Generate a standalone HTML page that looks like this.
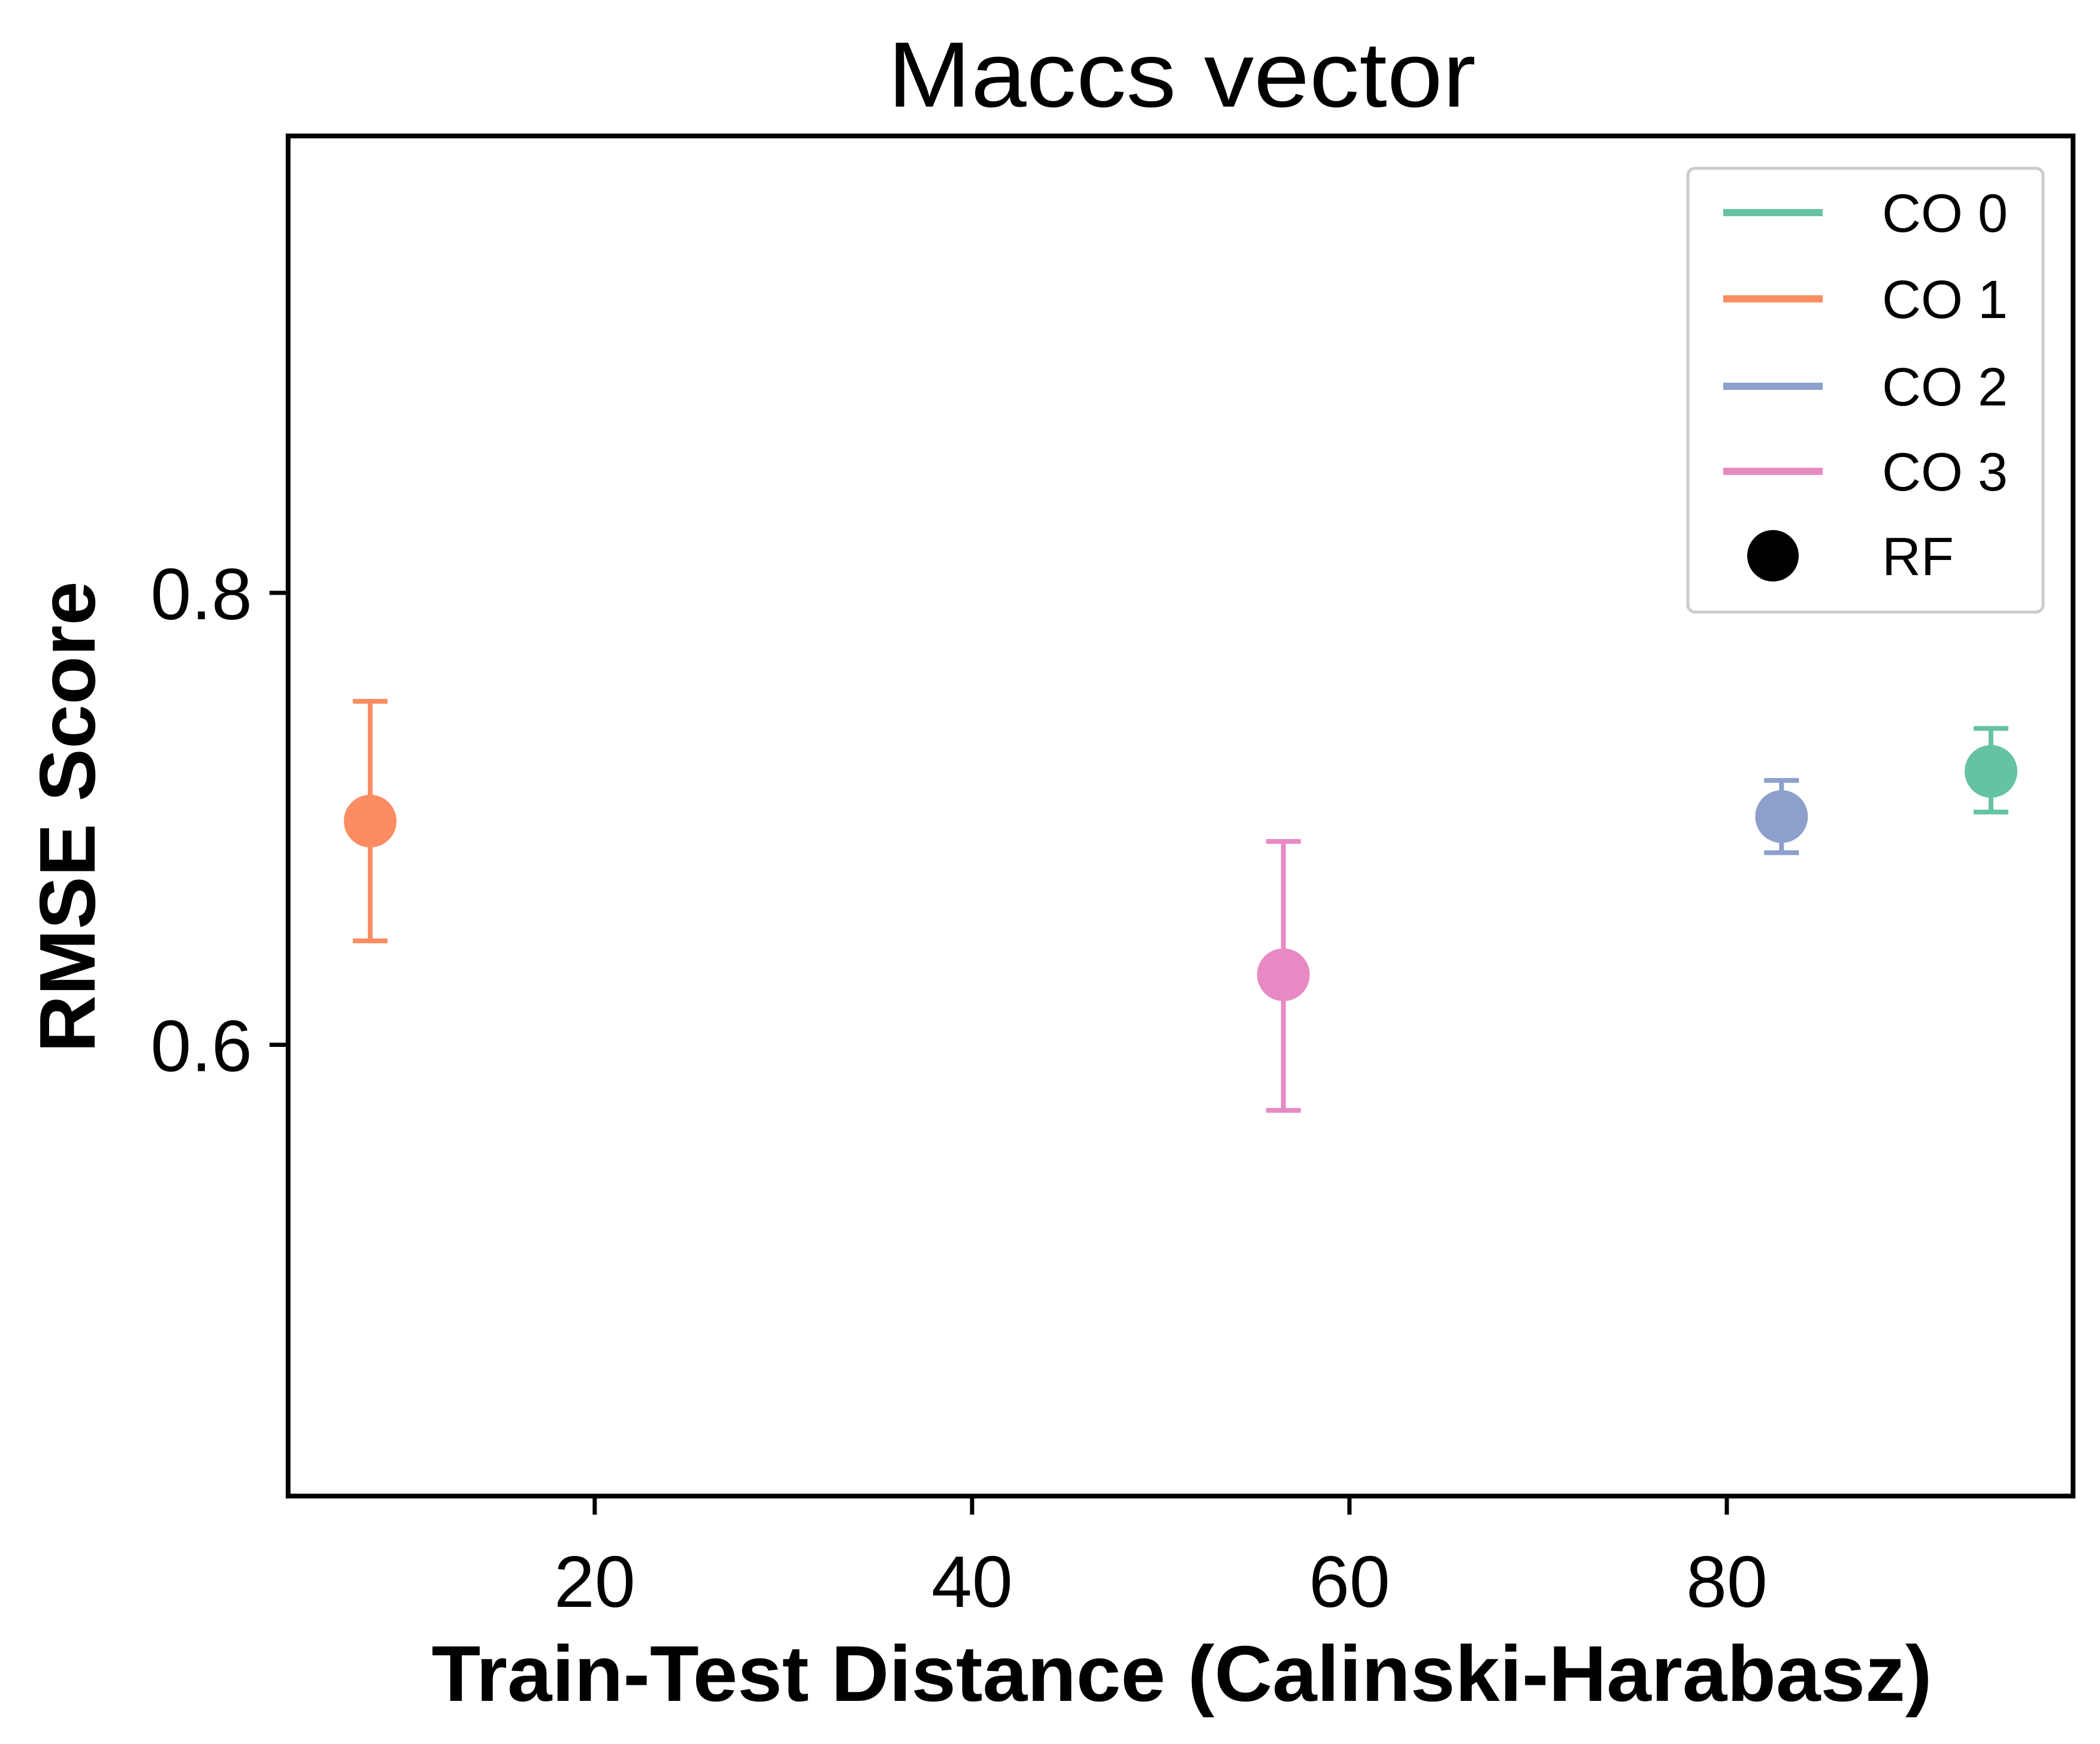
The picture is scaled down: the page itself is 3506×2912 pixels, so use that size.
<!DOCTYPE html>
<html><head><meta charset="utf-8"><style>html,body{margin:0;padding:0;background:#fff}svg{display:block}</style></head>
<body>
<svg id="chart" xmlns="http://www.w3.org/2000/svg" width="3506" height="2912" viewBox="0 0 3506 2912" font-family="Liberation Sans, Arial, sans-serif">
<rect width="3506" height="2912" fill="#fff"/>
<text x="1973" y="178" font-size="155" text-anchor="middle" textLength="982" lengthAdjust="spacingAndGlyphs">Maccs vector</text>
<g id="plot"></g>
<rect x="481" y="227" width="2980" height="2271" fill="none" stroke="#000" stroke-width="8"/>
<g id="xticks"></g>
<g id="yticks"></g>
<text x="1973" y="2840" font-size="132" font-weight="bold" text-anchor="middle" textLength="2505" lengthAdjust="spacingAndGlyphs">Train-Test Distance (Calinski-Harabasz)</text>
<text transform="translate(158,1364) rotate(-90)" font-size="132" font-weight="bold" text-anchor="middle" textLength="787" lengthAdjust="spacingAndGlyphs">RMSE Score</text>
<g>
<rect x="2818" y="281" width="593" height="741" rx="12" fill="#fff" stroke="#ccc" stroke-width="5"/>
<line x1="2877" y1="355" x2="3043" y2="355" stroke="#66c2a5" stroke-width="12"/>
<text x="3142" y="387" font-size="90">CO 0</text>
<line x1="2877" y1="499" x2="3043" y2="499" stroke="#fc8d62" stroke-width="12"/>
<text x="3142" y="531" font-size="90">CO 1</text>
<line x1="2877" y1="645" x2="3043" y2="645" stroke="#8da0cb" stroke-width="12"/>
<text x="3142" y="677" font-size="90">CO 2</text>
<line x1="2877" y1="787" x2="3043" y2="787" stroke="#e78ac3" stroke-width="12"/>
<text x="3142" y="819" font-size="90">CO 3</text>
<circle cx="2960" cy="928" r="43" fill="#000"/>
<text x="3142" y="960" font-size="90">RF</text>
</g>
</svg>
<script>
const categories = ["CO 0","CO 1","CO 2","CO 3"];
const xValues = [94.0, 8.1, 82.9, 56.5];
const yValues = [0.721, 0.699, 0.701, 0.631];
const errLow = [0.703, 0.646, 0.685, 0.571];
const errHigh = [0.740, 0.752, 0.717, 0.690];
const xTicks = [20, 40, 60, 80];
const yTicks = [0.6, 0.8];
const colors = ["#66c2a5","#fc8d62","#8da0cb","#e78ac3"];
const L=481,R=3461,T=227,B=2498, xmin=3.75, xmax=98.35, ymin=0.4003, ymax=1.0022;
const sx=v=>L+(v-xmin)/(xmax-xmin)*(R-L);
const sy=v=>B-(v-ymin)/(ymax-ymin)*(B-T);
const NS="http://www.w3.org/2000/svg";
function mk(tag,attrs,parent){const e=document.createElementNS(NS,tag);for(const k in attrs)e.setAttribute(k,attrs[k]);parent.appendChild(e);return e;}
const plot=document.getElementById('plot');
categories.forEach((c,i)=>{
  const x=sx(xValues[i]);
  const g=mk('g',{},plot);
  
  
  const col=colors[i];
  const v=mk('line',{x1:x,x2:x,y1:sy(errLow[i]),y2:sy(errHigh[i]),stroke:col,'stroke-width':8},g);
  
  
  [errLow[i],errHigh[i]].forEach(e=>{
    const cp=mk('line',{x1:x-29,x2:x+29,y1:sy(e),y2:sy(e),stroke:col,'stroke-width':8},g);
    
    
  });
  const p=mk('circle',{cx:x,cy:sy(yValues[i]),r:44,fill:col},g);
  
  
});
const xg=document.getElementById('xticks');
xTicks.forEach(t=>{
  const x=sx(t);
  const l=mk('line',{x1:x,x2:x,y1:B,y2:B+31,stroke:'#000','stroke-width':7},xg);
  
  
  const tx=mk('text',{x:x,y:B+185,'font-size':122,'text-anchor':'middle'},xg);
  tx.textContent=t;
  
  
});
const yg=document.getElementById('yticks');
yTicks.forEach(t=>{
  const y=sy(t);
  const l=mk('line',{x1:L-31,x2:L,y1:y,y2:y,stroke:'#000','stroke-width':7},yg);
  
  
  const tx=mk('text',{x:L-60,y:y+44,'font-size':122,'text-anchor':'end'},yg);
  tx.textContent=t.toFixed(1);
  
  
});
</script>
</body></html>
